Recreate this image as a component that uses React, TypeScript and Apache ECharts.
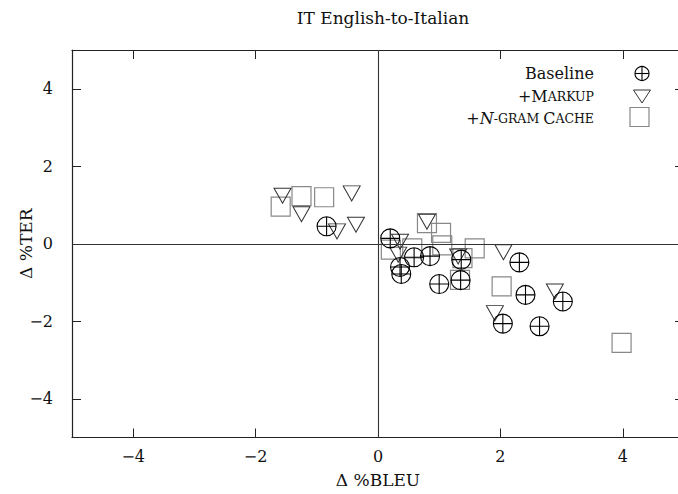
import React, { useEffect, useRef } from "react";
import * as echarts from "echarts";

const titleText = "IT English-to-Italian";
const xName = "Δ %BLEU";
const yName = "Δ %TER";
const tickValues = [-4, -2, 0, 2, 4];

const baselinePts = [
  [-0.84, 0.45], [0.2, 0.14], [0.36, -0.6], [0.38, -0.78], [0.59, -0.35],
  [0.85, -0.32], [1.0, -1.04], [1.36, -0.41], [1.35, -0.94], [2.31, -0.48],
  [2.41, -1.32], [3.02, -1.49], [2.04, -2.06], [2.64, -2.13],
];
const markupPts = [
  [-1.56, 1.24], [-0.43, 1.3], [-1.25, 0.76], [-0.36, 0.49], [-0.67, 0.32],
  [0.8, 0.57], [0.36, 0.05], [0.33, -0.28], [1.31, -0.33], [2.05, -0.22],
  [2.89, -1.23], [1.91, -1.79],
];
const cachePts = [
  [-1.59, 0.96], [-1.25, 1.23], [-0.88, 1.2], [0.8, 0.53], [1.03, 0.28],
  [1.05, -0.04], [0.21, -0.15], [0.56, -0.12], [1.58, -0.12], [1.34, -0.93],
  [1.38, -0.37], [2.02, -1.1], [3.98, -2.56],
];

const FONT = "'DejaVu Serif', 'Liberation Serif', serif";
const fmt = (v: number) => String(v).replace("-", "\u2212");

export default function App() {
  const ref = useRef<HTMLDivElement>(null);
  useEffect(() => {
    if (!ref.current) return;
    const chart = echarts.init(ref.current, null, { renderer: "svg" });
    const frame = { lineStyle: { color: "#222", width: 1.2 } };
    const tick = { show: true, inside: true, length: 9, customValues: tickValues, lineStyle: { color: "#222", width: 1 } };
    const baseX = {
      type: "value", min: -5, max: 5, splitLine: { show: false }, axisLine: { show: true, onZero: false, ...frame },
    };
    const baseY = {
      type: "value", min: -5, max: 5, splitLine: { show: false }, axisLine: { show: true, onZero: false, ...frame },
    };
    const txt = { fontFamily: FONT, fontSize: 16, fill: "#111" };
    chart.setOption({
      animation: false,
      backgroundColor: "#fff",
      title: {
        text: titleText, left: 378, textAlign: "center", top: 4,
        textStyle: { fontFamily: FONT, fontSize: 17, fontWeight: "normal", color: "#111" },
      },
      grid: { left: 72, top: 50, width: 612, height: 387.5, containLabel: false, outerBoundsMode: "none" },
      xAxis: [
        {
          ...baseX, position: "bottom", axisTick: tick,
          axisLabel: { customValues: tickValues, formatter: fmt, fontFamily: FONT, fontSize: 16, color: "#111", margin: 11 },
          name: xName, nameLocation: "middle", nameGap: 34, nameMoveOverlap: false,
          nameTextStyle: { fontFamily: FONT, fontSize: 17, color: "#111" },
        },
        { ...baseX, position: "top", axisTick: tick, axisLabel: { show: false } },
      ],
      yAxis: [
        {
          ...baseY, position: "left", axisTick: tick,
          axisLabel: { customValues: tickValues, formatter: fmt, fontFamily: FONT, fontSize: 16, color: "#111", margin: 19 },
          name: yName, nameLocation: "middle", nameGap: 38, nameRotate: 90, nameMoveOverlap: false,
          nameTextStyle: { fontFamily: FONT, fontSize: 17, color: "#111" },
        },
        { ...baseY, position: "right", axisTick: tick, axisLabel: { show: false } },
      ],
      series: [
        {
          name: "+N-gram Cache", type: "scatter", data: cachePts, symbol: "rect", symbolSize: 19,
          itemStyle: { color: "rgba(0,0,0,0)", borderColor: "#888", borderWidth: 1.2, opacity: 1 },
          markLine: {
            silent: true, symbol: ["none", "none"], label: { show: false },
            lineStyle: { color: "#333", width: 1.1, type: "solid" },
            data: [{ xAxis: 0 }, { yAxis: 0 }],
          },
        },
        {
          name: "+Markup", type: "scatter", data: markupPts,
          symbol: "path://M0,0L20,0L10,17Z", symbolSize: [17, 15],
          itemStyle: { color: "rgba(0,0,0,0)", borderColor: "#333", borderWidth: 1, opacity: 1 },
        },
        {
          name: "Baseline", type: "scatter", data: baselinePts,
          symbol: "path://M0,10A10,10,0,1,1,20,10A10,10,0,1,1,0,10ZM10,0L10,20M0,10L20,10", symbolSize: 19,
          itemStyle: { color: "rgba(0,0,0,0)", borderColor: "#000", borderWidth: 1.1, opacity: 1 },
        },
      ],
      graphic: [
        { type: "text", x: 594, y: 73, style: { ...txt, text: "Baseline", align: "right", verticalAlign: "middle" } },
        {
          type: "text", x: 594, y: 96,
          style: {
            text: "{n|+M}{s|ARKUP}", align: "right", verticalAlign: "middle",
            rich: { n: { ...txt }, s: { ...txt, fontSize: 12.5 } },
          },
        },
        {
          type: "text", x: 594, y: 118,
          style: {
            text: "{n|+}{i|N}{s|-GRAM }{n|C}{s|ACHE}", align: "right", verticalAlign: "middle",
            rich: { n: { ...txt }, i: { ...txt, fontStyle: "italic" }, s: { ...txt, fontSize: 12.5 } },
          },
        },
        { type: "circle", shape: { cx: 642, cy: 73.5, r: 7 }, style: { fill: "none", stroke: "#000", lineWidth: 1.1 } },
        { type: "line", shape: { x1: 642, y1: 66.5, x2: 642, y2: 80.5 }, style: { stroke: "#000", lineWidth: 1.1 } },
        { type: "line", shape: { x1: 635, y1: 73.5, x2: 649, y2: 73.5 }, style: { stroke: "#000", lineWidth: 1.1 } },
        { type: "polygon", shape: { points: [[633.5, 90], [650.5, 90], [642, 103]] }, style: { fill: "none", stroke: "#333", lineWidth: 1 } },
        { type: "rect", shape: { x: 630, y: 107.5, width: 19, height: 19 }, style: { fill: "none", stroke: "#888", lineWidth: 1.2 } },
      ],
    });
    return () => chart.dispose();
  }, []);
  return <div ref={ref} style={{ position: "fixed", left: 0, top: 0, width: 678, height: 494 }} />;
}
